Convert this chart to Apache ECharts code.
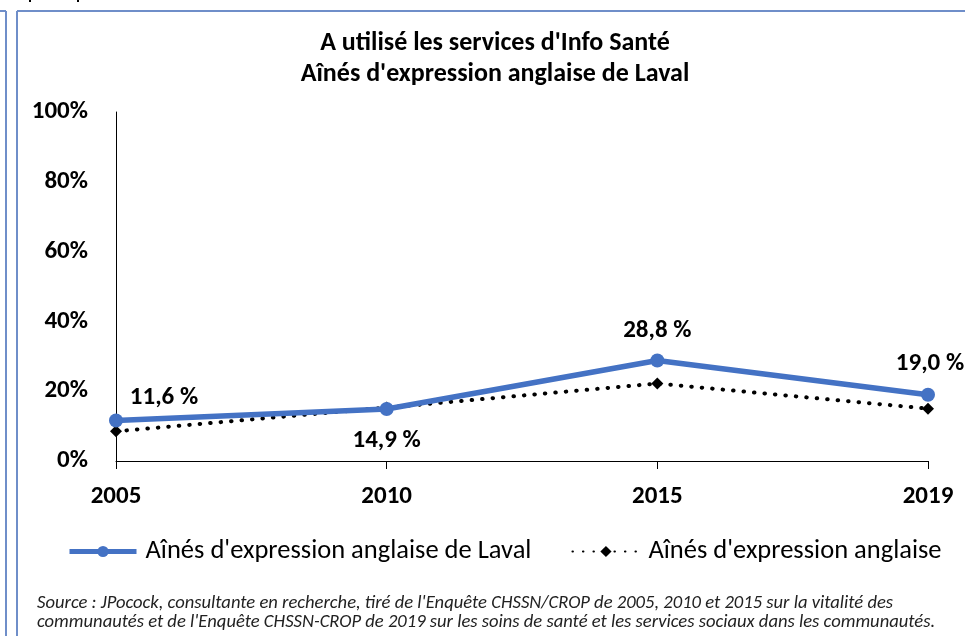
<!DOCTYPE html>
<html>
<head>
<meta charset="utf-8">
<script src="https://cdn.jsdelivr.net/npm/echarts@6/dist/echarts.min.js"></script>
<style>html,body{margin:0;padding:0;background:#fff}#c{width:965px;height:636px}</style>
</head>
<body>
<div id="c"></div>
<script>
const years = ['2005', '2010', '2015', '2019'];
const laval = [11.6, 14.9, 28.8, 19.0];
const anglaise = [8.5, 15.3, 22.2, 15.0];
const lavalLabels = ['11,6 %', '14,9 %', '28,8 %', '19,0 %'];
const yTicks = [0, 20, 40, 60, 80, 100];
const seriesNames = ["Aînés d'expression anglaise de Laval", "Aînés d'expression anglaise"];
const titleLines = ["A utilisé les services d'Info Santé", "Aînés d'expression anglaise de Laval"];
const sourceLines = [
  "Source : JPocock, consultante en recherche, tiré de l'Enquête CHSSN/CROP de 2005, 2010 et 2015 sur la vitalité des",
  "communautés et de l'Enquête CHSSN-CROP de 2019 sur les soins de santé et les services sociaux dans les communautés."
];

const FF = 'Carlito, "Liberation Sans", sans-serif';
const labelPos = [
  {position: 'top', offset: [48, 2]},
  {position: 'bottom', offset: [0, 7]},
  {position: 'top', offset: [0, -5]},
  {position: 'top', offset: [2, -6]}
];

const chart = echarts.init(document.getElementById('c'));
chart.setOption({
  animation: false,
  title: {
    text: titleLines.join('\n'),
    left: 490, top: 23, textAlign: 'center',
    textStyle: {fontFamily: FF, fontWeight: 'bold', fontSize: 26, color: '#000', lineHeight: 31}
  },
  grid: {left: 116, right: 37, top: 112, bottom: 175, containLabel: false},
  xAxis: {
    type: 'category', data: years, boundaryGap: false,
    axisLine: {lineStyle: {color: '#000', width: 1}},
    axisTick: {show: true, length: 8, lineStyle: {color: '#000'}},
    axisLabel: {fontFamily: FF, fontWeight: 'bold', fontSize: 25, color: '#000', margin: 23}
  },
  yAxis: {
    type: 'value', min: 0, max: 100, interval: 20,
    axisLine: {show: true, lineStyle: {color: '#000', width: 1}},
    axisTick: {show: false},
    splitLine: {show: false},
    axisLabel: {fontFamily: FF, fontWeight: 'bold', fontSize: 25, color: '#000', margin: 28,
      formatter: v => yTicks.includes(v) ? v + '%' : ''}
  },
  legend: {
    top: 533, left: 62, itemWidth: 67, itemHeight: 14, itemGap: 40,
    textStyle: {fontFamily: FF, fontSize: 26.5, color: '#000', padding: [0, 0, 0, 4]},
    data: [
      {name: seriesNames[0], lineStyle: {width: 5}},
      {name: seriesNames[1]}
    ]
  },
  graphic: [
    {type: 'line', shape: {x1: 6, y1: 11, x2: 6, y2: 636}, style: {stroke: '#6f8ec9', lineWidth: 2}},
    {type: 'line', shape: {x1: 0, y1: 11, x2: 6, y2: 11}, style: {stroke: '#6f8ec9', lineWidth: 2}},
    {type: 'line', shape: {x1: 17, y1: 11, x2: 17, y2: 636}, style: {stroke: '#6f8ec9', lineWidth: 2}},
    {type: 'line', shape: {x1: 17, y1: 11, x2: 965, y2: 11}, style: {stroke: '#6f8ec9', lineWidth: 2}},
    {type: 'line', shape: {x1: 30, y1: 0, x2: 30, y2: 2}, style: {stroke: '#000', lineWidth: 2}},
    {type: 'line', shape: {x1: 78, y1: 0, x2: 78, y2: 2}, style: {stroke: '#000', lineWidth: 2}},
    {type: 'text', left: 37, top: 594,
      style: {text: sourceLines.join('\n'), fontFamily: FF, fontStyle: 'italic', fontSize: 18.6, lineHeight: 19, fill: '#222'}}
  ],
  series: [
    {
      name: seriesNames[0], type: 'line', z: 3,
      symbol: 'circle', symbolSize: 14,
      lineStyle: {color: '#4472c4', width: 5.5},
      itemStyle: {color: '#4472c4'},
      label: {show: true, fontFamily: FF, fontWeight: 'bold', fontSize: 25, color: '#000',
        formatter: p => lavalLabels[p.dataIndex]},
      data: laval.map((v, i) => ({value: v, label: labelPos[i]}))
    },
    {
      name: seriesNames[1], type: 'line', data: anglaise, z: 2,
      symbol: 'diamond', symbolSize: 12,
      lineStyle: {color: '#000', width: 4, type: [0.5, 10], cap: 'round'},
      itemStyle: {color: '#000'}
    }
  ]
});
</script>
</body>
</html>
